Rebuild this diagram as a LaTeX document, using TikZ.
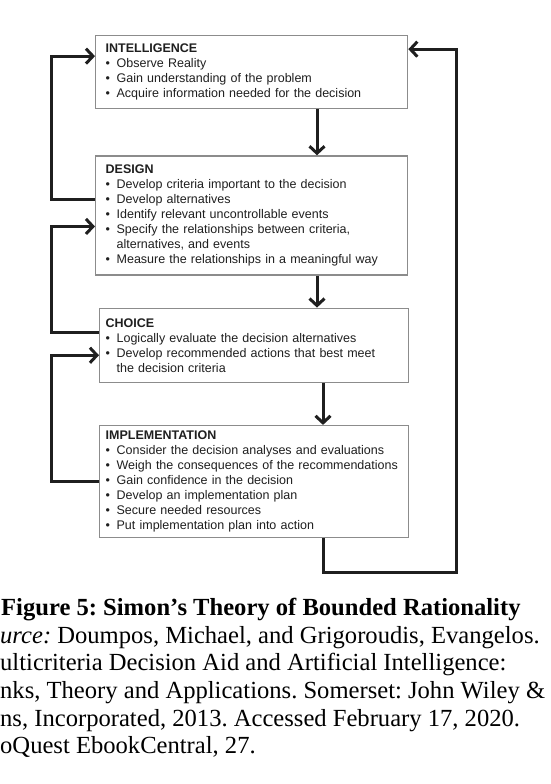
\documentclass[tikz,border=0pt]{standalone}
\usepackage{fontspec}
\setmainfont{Liberation Serif}
\newfontfamily\stagefont{Liberation Sans}
\usepackage{xcolor}
\usetikzlibrary{arrows.meta, positioning}
\frenchspacing

\newcommand{\bul}{\makebox[11pt][l]{•}}
\newcommand{\cont}{\hspace*{11pt}}

\begin{document}
\begin{tikzpicture}[
    x=1pt, y=-1pt,
    stage/.style={rectangle, draw=black!45, line width=1.3pt, fill=white, align=left, text width=292pt, inner xsep=10pt, inner ysep=0pt, text=black!88, font=\stagefont\fontsize{12.5}{15}\selectfont},
    narrow/.style={inner xsep=6pt, text width=297pt},
    flow/.style={-{Straight Barb[length=7pt, width=15pt]}, line width=3pt, draw=black!88},
    caption/.style={anchor=base west, inner sep=0pt, font=\fontsize{24.6}{27.7}\selectfont}
]
    \useasboundingbox (0,0) rectangle (551,784);

    % Four stages, top to bottom
    \node (intel) [stage, anchor=north west, minimum height=73pt] at (95,35)
        {\textbf{INTELLIGENCE}\\
         \bul Observe Reality\\
         \bul Gain understanding of the problem\\
         \bul Acquire information needed for the decision};
    \node (design) [stage, minimum height=119pt, below right=46pt and 0pt of intel.south west]
        {\textbf{DESIGN}\\
         \bul Develop criteria important to the decision\\
         \bul Develop alternatives\\
         \bul Identify relevant uncontrollable events\\
         \bul Specify the relationships between criteria,\\
         \cont alternatives, and events\\
         \bul Measure the relationships in a meaningful way};
    \node (choice) [stage, narrow, minimum height=74pt, below right=32pt and 4pt of design.south west]
        {\textbf{CHOICE}\\
         \bul Logically evaluate the decision alternatives\\
         \bul Develop recommended actions that best meet\\
         \cont the decision criteria};
    \node (impl) [stage, narrow, minimum height=112pt, below right=42pt and 0pt of choice.south west]
        {\textbf{IMPLEMENTATION}\\
         \bul Consider the decision analyses and evaluations\\
         \bul Weigh the consequences of the recommendations\\
         \bul Gain confidence in the decision\\
         \bul Develop an implementation plan\\
         \bul Secure needed resources\\
         \bul Put implementation plan into action};

    % Columns and corner of the return loop
    \coordinate (colA) at (317,0);
    \coordinate (colB) at (323,0);
    \coordinate (retBR) at (456,572);

    % Downward flow
    \draw [flow] (intel.south -| colA) -- (design.north -| colA);
    \draw [flow] (design.south -| colA) -- (choice.north -| colA);
    \draw [flow] (choice.south -| colB) -- (impl.north -| colB);

    % Return from implementation to intelligence
    \draw [flow] (impl.south -| colB) |- (retBR) |- ([yshift=23pt]intel.east);

    % Feedback loops on the left
    \draw [flow] ([yshift=16pt]design.west) -- ++(-44pt,0) |- ([yshift=16pt]intel.west);
    \draw [flow] ([yshift=13pt]choice.west) -- ++(-48pt,0) |- ([yshift=-11pt]design.west);
    \draw [flow] (impl.west) -- ++(-48pt,0) |- ([yshift=-10pt]choice.west);

    % Caption
    \node (cap1) [caption] at (1,615) {\textbf{Figure 5: Simon’s Theory of Bounded Rationality}};
    \node (cap2) [caption] at (0,643) {\textit{urce:} Doumpos, Michael, and Grigoroudis, Evangelos.};
    \node (cap3) [caption] at (0,670.5) {ulticriteria Decision Aid and Artificial Intelligence:};
    \node (cap4) [caption] at (0,698) {nks, Theory and Applications. Somerset: John Wiley \&};
    \node (cap5) [caption] at (0,726) {ns, Incorporated, 2013. Accessed February 17, 2020.};
    \node (cap6) [caption] at (0,753) {oQuest EbookCentral, 27.};

\end{tikzpicture}
\end{document}
